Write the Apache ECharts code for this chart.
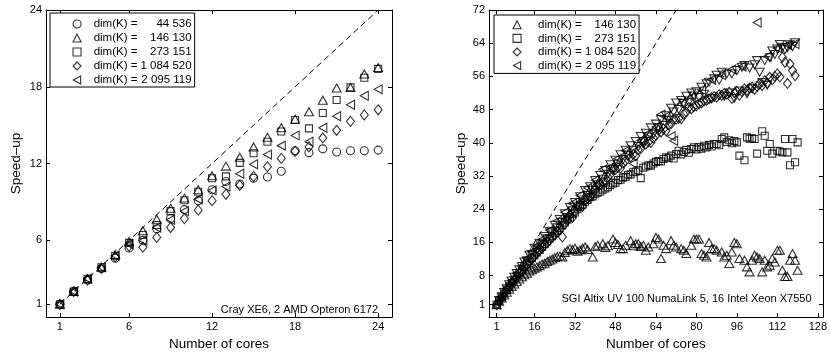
<!DOCTYPE html>
<html><head><meta charset="utf-8">
<script src="https://cdn.jsdelivr.net/npm/echarts@6/dist/echarts.min.js"></script>
<style>html,body{margin:0;padding:0;background:#fff}#c{width:830px;height:356px}</style>
</head><body><div id="c"></div><script>
const FONT = "'Liberation Sans', Arial, Helvetica, sans-serif";

// ---------- Left panel: Cray XE6 ----------
const coresL = [1,2,3,4,5,6,7,8,9,10,11,12,13,14,15,16,17,18,19,20,21,22,23,24];
const L_44536   = [1,2,2.9,3.8,4.6,5.4,6.0,6.9,7.7,8.4,9.1,9.95,10.6,10.4,10.85,10.95,11.4,13.0,12.85,13.15,12.9,13.0,13.0,13.05];
const L_146130  = [1,2,3,3.9,4.9,5.9,6.75,7.65,8.5,9.3,9.95,11.05,11.8,12.5,13.3,14.05,14.8,15.46,16.05,16.95,17.9,17.95,19.0,19.5];
const L_273151  = [1,2,3,3.9,4.8,5.8,6.42,7.2,8.28,9.13,9.8,10.85,11.0,12.05,12.8,13.7,14.5,15.4,14.75,15.95,16.97,17.95,18.7,19.4];
const L_1084520 = [1,2,2.9,3.8,4.7,5.55,5.46,6.23,7.0,7.7,8.36,9.1,9.6,10.3,10.98,11.75,12.4,12.95,13.3,14.0,14.6,15.3,15.8,16.2];
const L_2095119 = [1,2,3,3.9,4.8,5.7,5.98,7.0,7.6,8.28,9.2,9.9,10.2,11.2,11.95,12.7,13.4,14.2,13.7,14.8,15.7,16.6,17.3,17.8];
const idealLX = [1,24], idealLY = [1,24];
const ticksLX = [1,6,12,18,24], ticksLY = [1,6,12,18,24];

// ---------- Right panel: SGI Altix UV 100 ----------
const R_146130_x = [1,2,3,4,5,6,7,8,9,10,11,12,13,14,15,16,17,18,19,20,21,22,23,24,25,26,27,28,29,30,31,32,33,34,35,36,37,39,40,41,43,44,45,47,48,49,50,51,52,54,55,56,57,58,59,60,61,63,64,65,66,67,68,70,71,72,74,75,76,78,79,80,81,82,83,84,85,86,87,88,90,91,92,93,94,95,96,97,99,100,101,102,103,104,105,106,107,108,109,110,111,112,113,114,115,116,117,118,119,120];
const R_146130_y = [1.0,1.8,2.6,3.3,4.0,4.7,5.4,6.0,6.6,7.2,7.7,8.2,8.6,9.1,9.4,9.8,10.1,10.4,10.8,11.0,11.4,11.7,12.0,12.3,12.6,12.7,12.5,13.6,14.1,14.5,14.3,14.6,13.9,14.2,14.6,14.9,14.3,12.5,15.0,15.3,15.7,14.8,15.2,16.8,16.0,15.5,14.5,14.5,15.3,16.4,15.2,15.7,15.7,15.0,15.3,14.1,14.9,15.7,17.2,16.8,12.1,15.3,14.5,16.4,15.3,14.9,14.5,14.1,13.3,15.3,16.8,16.8,16.8,13.3,12.9,12.5,16.0,14.5,14.5,14.1,13.7,12.5,12.9,10.9,13.7,16.0,15.7,12.1,11.7,10.1,8.9,11.7,12.9,12.5,12.1,8.9,11.7,10.1,10.5,12.1,11.3,14.1,14.1,9.3,7.8,7.8,11.7,13.3,11.7,9.3];

// cores 1..120 (index i -> cores i+1), null = no point
const R_273151_y = [1.0,1.9,2.8,3.7,4.6,5.4,6.2,7.0,7.8,8.6,9.3,10.1,10.8,11.5,12.2,12.9,13.6,14.2,14.9,15.6,16.2,16.9,17.5,18.2,18.8,19.5,20.1,20.8,21.5,22.0,22.8,23.2,24.0,24.6,25.1,25.8,26.2,26.9,27.1,27.6,28.0,28.2,28.7,29.0,29.3,29.8,30.2,30.4,31.0,31.1,31.6,31.8,32.3,32.4,32.9,33.1,33.4,31.5,34.0,34.3,34.6,34.5,35.0,35.4,35.6,35.5,36.1,36.5,36.4,36.9,36.2,37.3,38.1,37.2,37.8,38.3,37.6,38.5,38.9,38.4,39.0,38.6,39.3,38.9,39.5,39.1,39.7,39.7,39.4,40.9,41.3,40.2,40.6,39.9,40.4,40.1,36.9,null,35.8,41.3,41.0,41.1,40.9,37.4,null,42.8,41.7,38.1,39.7,37.4,null,38.1,37.9,37.7,40.9,37.7,34.6,40.9,35.3,40.1];
const R_1084520_y = [1.0,1.8,2.7,3.6,4.5,5.3,6.1,6.9,7.7,8.5,9.2,10.0,10.7,11.4,12.0,12.8,13.4,14.0,14.7,15.4,15.9,16.6,17.3,17.8,18.6,19.1,17.3,20.5,21.4,22.6,22.0,23.4,24.6,24.8,24.7,26.1,26.6,26.9,27.9,28.7,29.9,30.0,30.4,30.6,31.7,32.4,33.5,33.6,34.0,33.9,35.1,35.6,36.9,36.6,37.2,36.9,38.3,38.6,40.0,39.7,40.2,40.1,41.1,41.8,43.0,42.6,43.3,42.9,44.3,44.6,45.7,45.7,45.9,45.8,46.9,47.4,48.5,48.2,48.7,48.9,49.4,49.6,50.1,50.2,50.6,50.9,51.2,51.0,51.6,51.4,51.9,51.7,52.2,50.7,52.0,52.4,51.5,52.3,53.0,52.6,53.2,53.4,52.9,53.6,54.2,53.8,55.0,54.4,55.8,55.2,56.0,56.6,55.9,60.6,59.4,54.3,59.0,57.4,56.2,null];
const R_upper_y = [null,2.0,2.9,3.9,4.8,5.8,6.7,7.6,8.5,9.4,10.2,11.3,11.6,12.9,13.1,14.6,14.2,15.8,15.6,17.4,16.9,18.6,18.3,20.1,19.5,21.5,20.8,22.9,22.0,24.4,23.6,25.6,24.7,27.0,26.2,28.5,27.3,29.4,28.6,30.9,29.9,32.1,31.2,33.3,32.4,34.7,33.6,35.8,34.9,37.1,35.9,38.2,37.0,39.3,38.2,40.3,39.1,41.5,40.3,42.3,41.4,43.6,42.1,44.5,43.6,45.6,44.2,46.5,45.4,48.3,47.4,49.6,48.0,50.2,49.5,51.2,49.8,52.0,51.3,52.3,50.9,53.4,51.7,54.2,54.6,50.6,55.4,56.3,55.1,57.0,51.2,56.6,52.0,56.6,50.7,57.4,52.5,58.2,58.6,51.8,58.0,53.0,58.8,59.8,57.0,54.5,59.8,53.9,60.5,62.1,61.3,62.6,63.7,63.0,62.4,62.9,63.6,63.2,64.1,null];
const R_2095119_x = [1,3,5,7,9,11,13,15,17,19,22,25,28,31,34,37,40,43,46,49,52,55,58,61,64,66,68,70,71,74,78,82,86,90,94,98,104,108,112,116,119];
const R_2095119_y = [1,3,4.9,6.8,8.6,10.3,12.1,13.7,15.2,16.7,18.9,21.2,23.2,25.4,27.3,29.1,31.0,33.6,34.1,36.2,38.1,35.0,40.6,42.3,43.8,46.8,46.4,41.6,40.5,49.3,51.0,52.8,55.2,56.3,57.7,58.4,69.0,60.8,62.8,63.6,63.8];
const idealRX = [1,72], idealRY = [1,72];
const ticksRX = [1,16,32,48,64,80,96,112,128], ticksRY = [1,8,16,24,32,40,48,56,64,72];

const coresR = Array.from({length: 120}, (_, i) => i + 1);

function zip(xs, ys) {
  const out = [];
  for (let i = 0; i < xs.length && i < ys.length; i++) if (ys[i] != null) out.push([xs[i], ys[i]]);
  return out;
}

const hollow = {color: 'rgba(0,0,0,0)', borderColor: '#000', borderWidth: 1.1};
const MK = {
  '44 536':    {symbol: 'circle', symbolSize: 8, symbolRotate: 0, icon: 'circle'},
  '146 130':   {symbol: 'triangle', symbolSize: [9, 8], symbolRotate: 0, icon: 'triangle'},
  '273 151':   {symbol: 'rect', symbolSize: 7, symbolRotate: 0, icon: 'rect'},
  '1 084 520': {symbol: 'diamond', symbolSize: [8, 10], symbolRotate: 0, icon: 'diamond'},
  '2 095 119': {symbol: 'triangle', symbolSize: [9, 8], symbolRotate: 90, icon: 'path://M0,5L9,0L9,10Z'}
};
function sc(name, data, ai) {
  const m = MK[name];
  return {type: 'scatter', name: name, data: data, xAxisIndex: ai, yAxisIndex: ai,
    symbol: m.symbol, symbolSize: m.symbolSize, symbolRotate: m.symbolRotate,
    itemStyle: hollow, silent: true, emphasis: {disabled: true}, z: 3};
}
function ideal(data, ai) {
  return {type: 'line', data: data, xAxisIndex: ai, yAxisIndex: ai, symbol: 'none', silent: true,
    lineStyle: {color: '#000', width: 1, type: [6, 4]}, z: 2};
}

function xAx(gi, min, max, ticks, pos, withLabels) {
  return {gridIndex: gi, type: 'value', min: min, max: max, position: pos,
    axisLine: {show: true, onZero: false, lineStyle: {color: '#000', width: 1}},
    axisTick: {show: true, inside: true, length: 4, customValues: ticks, lineStyle: {color: '#000', width: 1}},
    axisLabel: {show: withLabels, customValues: ticks, color: '#000', fontSize: 11, fontFamily: FONT, margin: 4},
    splitLine: {show: false},
    name: withLabels ? 'Number of cores' : '', nameLocation: 'middle', nameGap: 18,
    nameTextStyle: {color: '#000', fontSize: 13.5, fontFamily: FONT}};
}
function yAx(gi, min, max, ticks, pos, withLabels, gap) {
  return {gridIndex: gi, type: 'value', min: min, max: max, position: pos,
    axisLine: {show: true, onZero: false, lineStyle: {color: '#000', width: 1}},
    axisTick: {show: true, inside: true, length: 4, customValues: ticks, lineStyle: {color: '#000', width: 1}},
    axisLabel: {show: withLabels, customValues: ticks, color: '#000', fontSize: 11, fontFamily: FONT, margin: 4},
    splitLine: {show: false},
    name: withLabels ? 'Speed\u2013up' : '', nameLocation: 'middle', nameGap: gap,
    nameTextStyle: {color: '#000', fontSize: 13.5, fontFamily: FONT}};
}

function legend(left, top, names, padding, lineH, spacer) {
  return {left: left, top: top, orient: 'vertical', selectedMode: false,
    data: names.map(n => ({name: n, icon: MK[n].icon})),
    itemWidth: 8, itemHeight: 8, itemGap: 0, padding: padding,
    backgroundColor: '#fff', borderColor: '#000', borderWidth: 1, borderRadius: 0,
    itemStyle: {color: 'rgba(0,0,0,0)', borderColor: '#000', borderWidth: 1.1},
    formatter: n => '{s| }{a|dim(K) =}{b|' + n + '}',
    textStyle: {color: '#000', fontSize: 11.5, fontFamily: FONT, lineHeight: lineH,
      rich: {s: {width: spacer, lineHeight: lineH}, a: {width: 47, fontSize: 11.5, fontFamily: FONT, lineHeight: lineH},
             b: {width: 51, align: 'right', fontSize: 11.5, fontFamily: FONT, lineHeight: lineH}}}};
}

const namesL = ['44 536', '146 130', '273 151', '1 084 520', '2 095 119'];
const namesR = ['146 130', '273 151', '1 084 520', '2 095 119'];

const option = {
  animation: false,
  backgroundColor: '#fff',
  grid: [
    {left: 46, top: 10, width: 346, height: 313},
    {left: 489, top: 10, width: 342, height: 313}
  ],
  xAxis: [
    xAx(0, 0, 25, ticksLX, 'bottom', true), xAx(0, 0, 25, ticksLX, 'top', false),
    xAx(1, -2, 130, ticksRX, 'bottom', true), xAx(1, -2, 130, ticksRX, 'top', false)
  ],
  yAxis: [
    yAx(0, 0, 24, ticksLY, 'left', true, 22.5), yAx(0, 0, 24, ticksLY, 'right', false, 0),
    yAx(1, -2, 72, ticksRY, 'left', true, 20.5), yAx(1, -2, 72, ticksRY, 'right', false, 0)
  ],
  legend: [
    legend(50, 13, namesL, [4, 3, 0, 22.5], 14, 7.6),
    legend(494, 15, namesR, [3, 3, 1, 18.5], 13.6, 12)
  ],
  graphic: [
    {type: 'text', x: 378, y: 310, silent: true,
     style: {text: 'Cray XE6, 2 AMD Opteron 6172', align: 'right', verticalAlign: 'middle', fontSize: 11, fontFamily: FONT, fill: '#000'}},
    {type: 'text', x: 561.5, y: 299, silent: true,
     style: {text: 'SGI Altix UV 100 NumaLink 5, 16 Intel Xeon X7550', align: 'left', verticalAlign: 'middle', fontSize: 11, fontFamily: FONT, fill: '#000'}}
  ],
  series: [
    ideal(zip(idealLX, idealLY), 0),
    sc('44 536', zip(coresL, L_44536), 0),
    sc('146 130', zip(coresL, L_146130), 0),
    sc('273 151', zip(coresL, L_273151), 0),
    sc('1 084 520', zip(coresL, L_1084520), 0),
    sc('2 095 119', zip(coresL, L_2095119), 0),

    ideal(zip(idealRX, idealRY), 2),
    sc('146 130', zip(R_146130_x, R_146130_y), 2),
    sc('273 151', zip(coresR, R_273151_y), 2),
    sc('1 084 520', zip(coresR, R_1084520_y), 2),
    {type: 'scatter', name: 'upper', data: zip(coresR, R_upper_y), xAxisIndex: 2, yAxisIndex: 2,
     symbol: 'triangle', symbolSize: [9, 8], symbolRotate: 180, itemStyle: hollow, silent: true, emphasis: {disabled: true}, z: 3},
    sc('2 095 119', zip(R_2095119_x, R_2095119_y), 2)
  ]
};

const chart = echarts.init(document.getElementById('c'), null, {renderer: 'canvas'});
chart.setOption(option);
</script></body></html>
